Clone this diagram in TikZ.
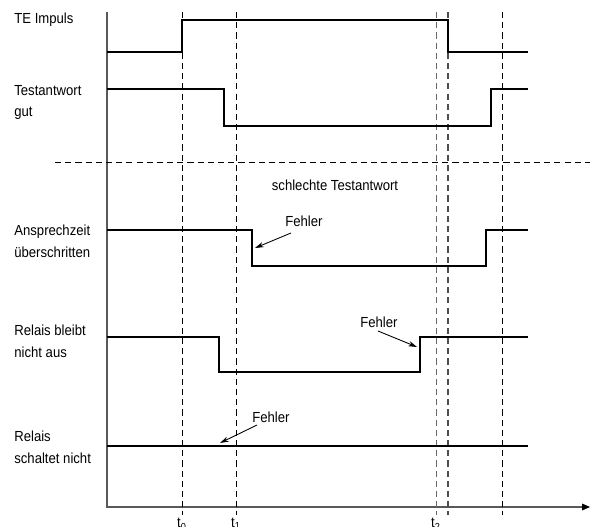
\documentclass[tikz,border=0pt]{standalone}
\usepackage{fontspec}
\setmainfont[FakeStretch=0.9]{Liberation Sans}
\usepackage{tikz}
\usetikzlibrary{arrows.meta}

\begin{document}
\begin{tikzpicture}[x=0.02cm,y=-0.02cm]
\tikzstyle{every node}+=[inner sep=0pt, font=\fontsize{8.3}{12.5}\selectfont]
\tikzstyle{signal}=[black, line width=1.3pt]
\tikzstyle{tline}=[black, line width=0.5pt, dash pattern=on 3.5pt off 2.3pt]
\tikzstyle{errarrow}=[black, line width=0.5pt, -{Stealth[length=5pt,width=3pt]}]
\useasboundingbox (0,0) rectangle (590,526);
% axes
\draw [black!65, line width=0.6pt] (107,12) -- (107,507) -- (582,507);
\fill [black] (590,507) -- (582,503.5) -- (582,510.5);
% time marks
\draw [tline] (182,12) -- (182,515);
\draw [tline] (236,12) -- (236,515);
\draw [tline, black!60] (436,12) -- (436,515);
\draw [tline, black!70, line width=0.7pt] (448,12) -- (448,515);
\draw [tline] (502,12) -- (502,515);
\draw (182,518) node [anchor=north] (tnull) {t\textsubscript{0}};
\draw (236,518) node [anchor=north] (teins) {t\textsubscript{1}};
\draw (436,518) node [anchor=north] (tzwei) {t\textsubscript{2}};
% separator
\draw [tline] (55,162) -- (590,162);
\draw (335,191) node [anchor=base] (schlecht) {schlechte Testantwort};
% signals (base anchor = last line)
\draw (14,24) node [anchor=base west] (impuls) {TE Impuls};
\draw [signal] (107,52) -- (182,52) -- (182,20) -- (448,20) -- (448,52) -- (528,52);
\draw (14,117) node [anchor=base west, align=left] (gut) {Testantwort\\gut};
\draw [signal] (107,89) -- (224,89) -- (224,126) -- (491,126) -- (491,89) -- (528,89);
\draw (14,257) node [anchor=base west, align=left] (ansprech) {Ansprechzeit\\überschritten};
\draw [signal] (107,230) -- (252,230) -- (252,266) -- (486,266) -- (486,230) -- (528,230);
\draw (14,357) node [anchor=base west, align=left] (bleibt) {Relais bleibt\\nicht aus};
\draw [signal] (107,337) -- (219,337) -- (219,372) -- (420,372) -- (420,337) -- (528,337);
\draw (14,463) node [anchor=base west, align=left] (schaltet) {Relais\\schaltet nicht};
\draw [signal] (107,446) -- (528,446);
% errors
\draw (285,227) node [anchor=base west] (fehlerA) {Fehler};
\coordinate (fehlerAfrom) at (291,233);
\coordinate (fehlerAto) at (255,248);
\draw [errarrow] (fehlerAfrom) -- (fehlerAto);
\draw (360,327) node [anchor=base west] (fehlerB) {Fehler};
\coordinate (fehlerBfrom) at (378,331);
\coordinate (fehlerBto) at (417,347);
\draw [errarrow] (fehlerBfrom) -- (fehlerBto);
\draw (252,422) node [anchor=base west] (fehlerC) {Fehler};
\coordinate (fehlerCfrom) at (257,425);
\coordinate (fehlerCto) at (220,443);
\draw [errarrow] (fehlerCfrom) -- (fehlerCto);
\end{tikzpicture}
\end{document}
